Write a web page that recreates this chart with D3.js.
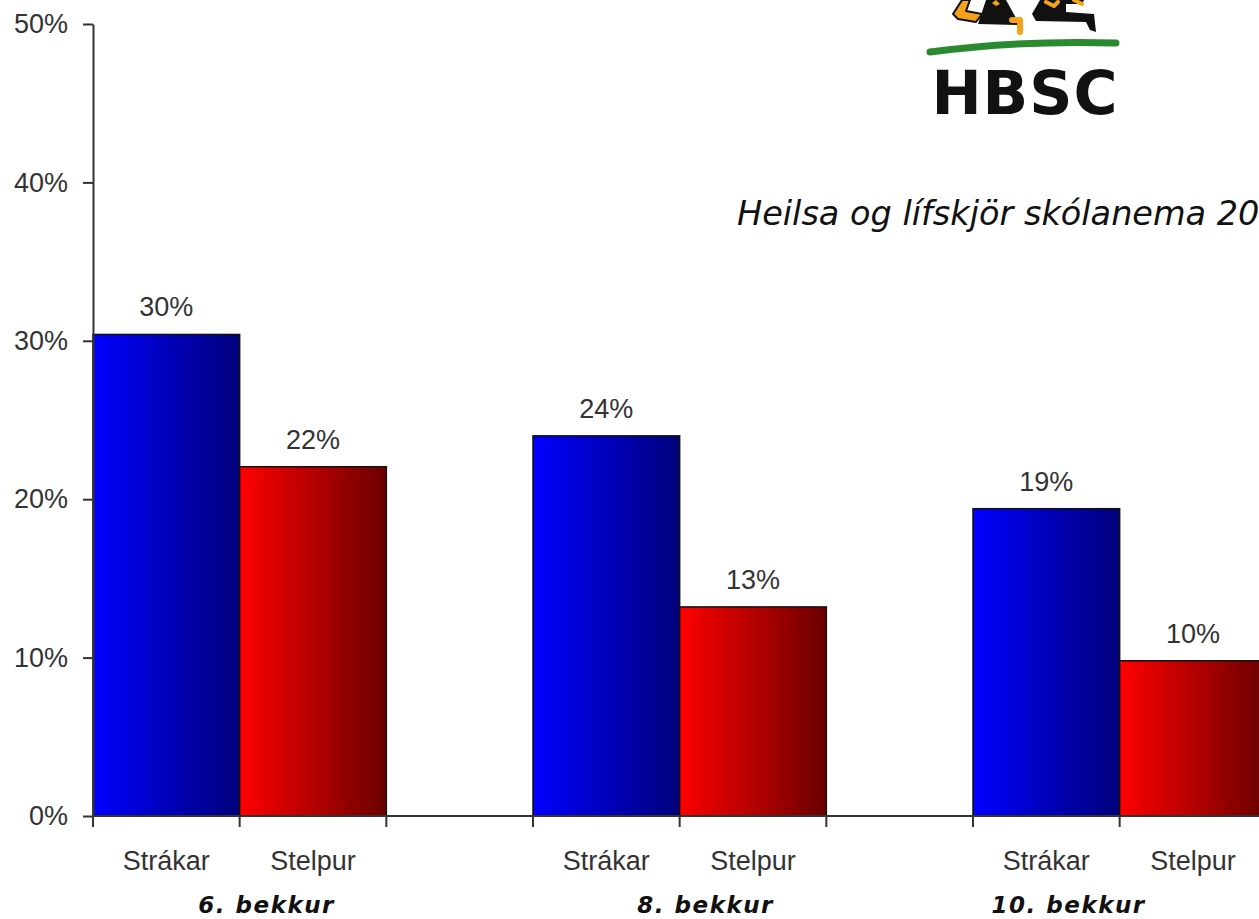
<!DOCTYPE html>
<html>
<head>
<meta charset="utf-8">
<script src="https://cdn.jsdelivr.net/npm/d3@7"></script>
<style>
  html, body { margin: 0; padding: 0; background: #fff; overflow: hidden; }
  svg { display: block; }
</style>
</head>
<body>
<svg id="chart" width="1259" height="919"></svg>
<script>
// ---- data ----
const groups = ["6. bekkur", "8. bekkur", "10. bekkur"];
const series = ["Strákar", "Stelpur"];
const strakar = [0.304, 0.240, 0.194];
const stelpur = [0.2205, 0.132, 0.098];
const valueLabels = [["30%", "22%"], ["24%", "13%"], ["19%", "10%"]];
const yTicks = [0, 0.1, 0.2, 0.3, 0.4, 0.5];
const title = "Heilsa og lífskjör skólanema 2006";

// ---- layout ----
const W = 1259, H = 919;
const x0 = 93, y0 = 816, yTop = 24;
const groupLabelShift = [27, 26, -51];
const sansFont = "Liberation Sans, Arial, sans-serif";

const svg = d3.select("#chart");

const defs = svg.append("defs");
function grad(id, c1, c2) {
  const g = defs.append("linearGradient").attr("id", id)
    .attr("x1", "0%").attr("x2", "100%").attr("y1", "0%").attr("y2", "0%");
  g.append("stop").attr("offset", "0%").attr("stop-color", c1);
  g.append("stop").attr("offset", "100%").attr("stop-color", c2);
}
grad("gBlue", "#0000ff", "#00007a");
grad("gRed", "#ff0000", "#6a0000");
const fills = ["url(#gBlue)", "url(#gRed)"];

const y = d3.scaleLinear().domain([0, 0.5]).range([y0, yTop]);
const xg = d3.scaleBand().domain(groups)
  .range([x0, x0 + 440 * (8 / 3)]).paddingInner(1 / 3).paddingOuter(0);
const xs = d3.scaleBand().domain(series).range([0, xg.bandwidth()]);

const data = groups.map((g, i) => ({
  group: g,
  vals: [
    { s: series[0], v: strakar[i], label: valueLabels[i][0] },
    { s: series[1], v: stelpur[i], label: valueLabels[i][1] }
  ]
}));

// bars
const gg = svg.append("g").selectAll("g").data(data).join("g")
  .attr("transform", d => `translate(${xg(d.group)},0)`);

gg.selectAll("rect").data(d => d.vals).join("rect")
  .attr("x", d => xs(d.s))
  .attr("y", d => y(d.v))
  .attr("width", xs.bandwidth())
  .attr("height", d => y0 - y(d.v))
  .attr("fill", (d, i) => fills[i])
  .attr("stroke", "#111")
  .attr("stroke-width", 1.5);

gg.selectAll("text.val").data(d => d.vals).join("text")
  .attr("class", "val")
  .attr("x", d => xs(d.s) + xs.bandwidth() / 2)
  .attr("y", d => y(d.v) - 18)
  .attr("text-anchor", "middle")
  .attr("font-family", sansFont)
  .attr("font-size", 27)
  .attr("fill", "#333")
  .text(d => d.label);

// series labels
gg.selectAll("text.ser").data(d => d.vals).join("text")
  .attr("class", "ser")
  .attr("x", d => xs(d.s) + xs.bandwidth() / 2)
  .attr("y", 870)
  .attr("text-anchor", "middle")
  .attr("font-family", sansFont)
  .attr("font-size", 27)
  .attr("fill", "#333")
  .text(d => d.s);

// group labels
gg.append("text")
  .attr("x", (d, i) => xg.bandwidth() / 2 + groupLabelShift[i])
  .attr("y", 913)
  .attr("text-anchor", "middle")
  .attr("font-family", "DejaVu Sans, sans-serif")
  .attr("font-style", "italic")
  .attr("font-weight", "bold")
  .attr("font-size", 23)
  .attr("letter-spacing", 1.5)
  .attr("fill", "#111")
  .text(d => d.group);

// x axis line + ticks
svg.append("line")
  .attr("x1", x0).attr("x2", W).attr("y1", y0).attr("y2", y0)
  .attr("stroke", "#333").attr("stroke-width", 2);
const xtickPos = [];
groups.forEach(g => {
  series.forEach(s => xtickPos.push(xg(g) + xs(s)));
  xtickPos.push(xg(g) + xg.bandwidth());
});
svg.append("g").selectAll("line").data(xtickPos).join("line")
  .attr("x1", d => d).attr("x2", d => d)
  .attr("y1", y0).attr("y2", y0 + 11)
  .attr("stroke", "#333").attr("stroke-width", 2);

// y axis
const yAxis = d3.axisLeft(y).tickValues(yTicks).tickFormat(d3.format(".0%"))
  .tickSize(10).tickSizeOuter(0).tickPadding(15);
const ya = svg.append("g").attr("transform", `translate(${x0},0)`).call(yAxis);
ya.select(".domain").attr("stroke", "#333").attr("stroke-width", 2);
ya.selectAll(".tick line").attr("stroke", "#333").attr("stroke-width", 2);
ya.selectAll(".tick text")
  .attr("font-family", sansFont)
  .attr("font-size", 27).attr("fill", "#333");

// title (cut off at the right edge, as in the reference)
svg.append("text")
  .attr("x", 737).attr("y", 225)
  .attr("font-family", "DejaVu Sans, sans-serif")
  .attr("font-style", "italic")
  .attr("font-size", 33.5)
  .attr("fill", "#111")
  .text(title);

// HBSC logo
const logo = svg.append("g").attr("stroke-linejoin", "round").attr("stroke-linecap", "round");
// left runner
logo.append("path")
  .attr("d", "M962,0 L953,14 L958,19 L976,22 L982,14 L966,11 L970,0 Z")
  .attr("fill", "#f4a21c").attr("stroke", "#111").attr("stroke-width", 2);
logo.append("path")
  .attr("d", "M986,0 L978,24 L1020,25 L1006,0 Z")
  .attr("fill", "#111");
logo.append("path")
  .attr("d", "M992,3 L996,0 L1000,4 L996,6 Z")
  .attr("fill", "#f4a21c");
logo.append("path")
  .attr("d", "M1012,20 L1020,20 L1020,32")
  .attr("fill", "none").attr("stroke", "#f4a21c").attr("stroke-width", 6);
// right runner
logo.append("path")
  .attr("d", "M1040,0 L1032,14 L1036,21 L1086,22 L1090,30 L1096,32 L1094,14 L1066,12 L1066,4 L1082,4 L1084,0 Z")
  .attr("fill", "#111");
logo.append("path")
  .attr("d", "M1046,2 L1054,6 L1058,2")
  .attr("fill", "none").attr("stroke", "#f4a21c").attr("stroke-width", 4);
logo.append("path")
  .attr("d", "M1074,0 L1082,4")
  .attr("fill", "none").attr("stroke", "#f4a21c").attr("stroke-width", 4);
// green line
logo.append("path")
  .attr("d", "M930,52 Q1020,40 1116,43")
  .attr("fill", "none").attr("stroke", "#2b8a2f").attr("stroke-width", 7);
logo.append("text")
  .attr("x", 1025).attr("y", 114)
  .attr("text-anchor", "middle")
  .attr("font-family", "DejaVu Sans, sans-serif")
  .attr("font-weight", "bold")
  .attr("font-size", 60)
  .attr("letter-spacing", 1)
  .attr("fill", "#111")
  .text("HBSC");
</script>
</body>
</html>
